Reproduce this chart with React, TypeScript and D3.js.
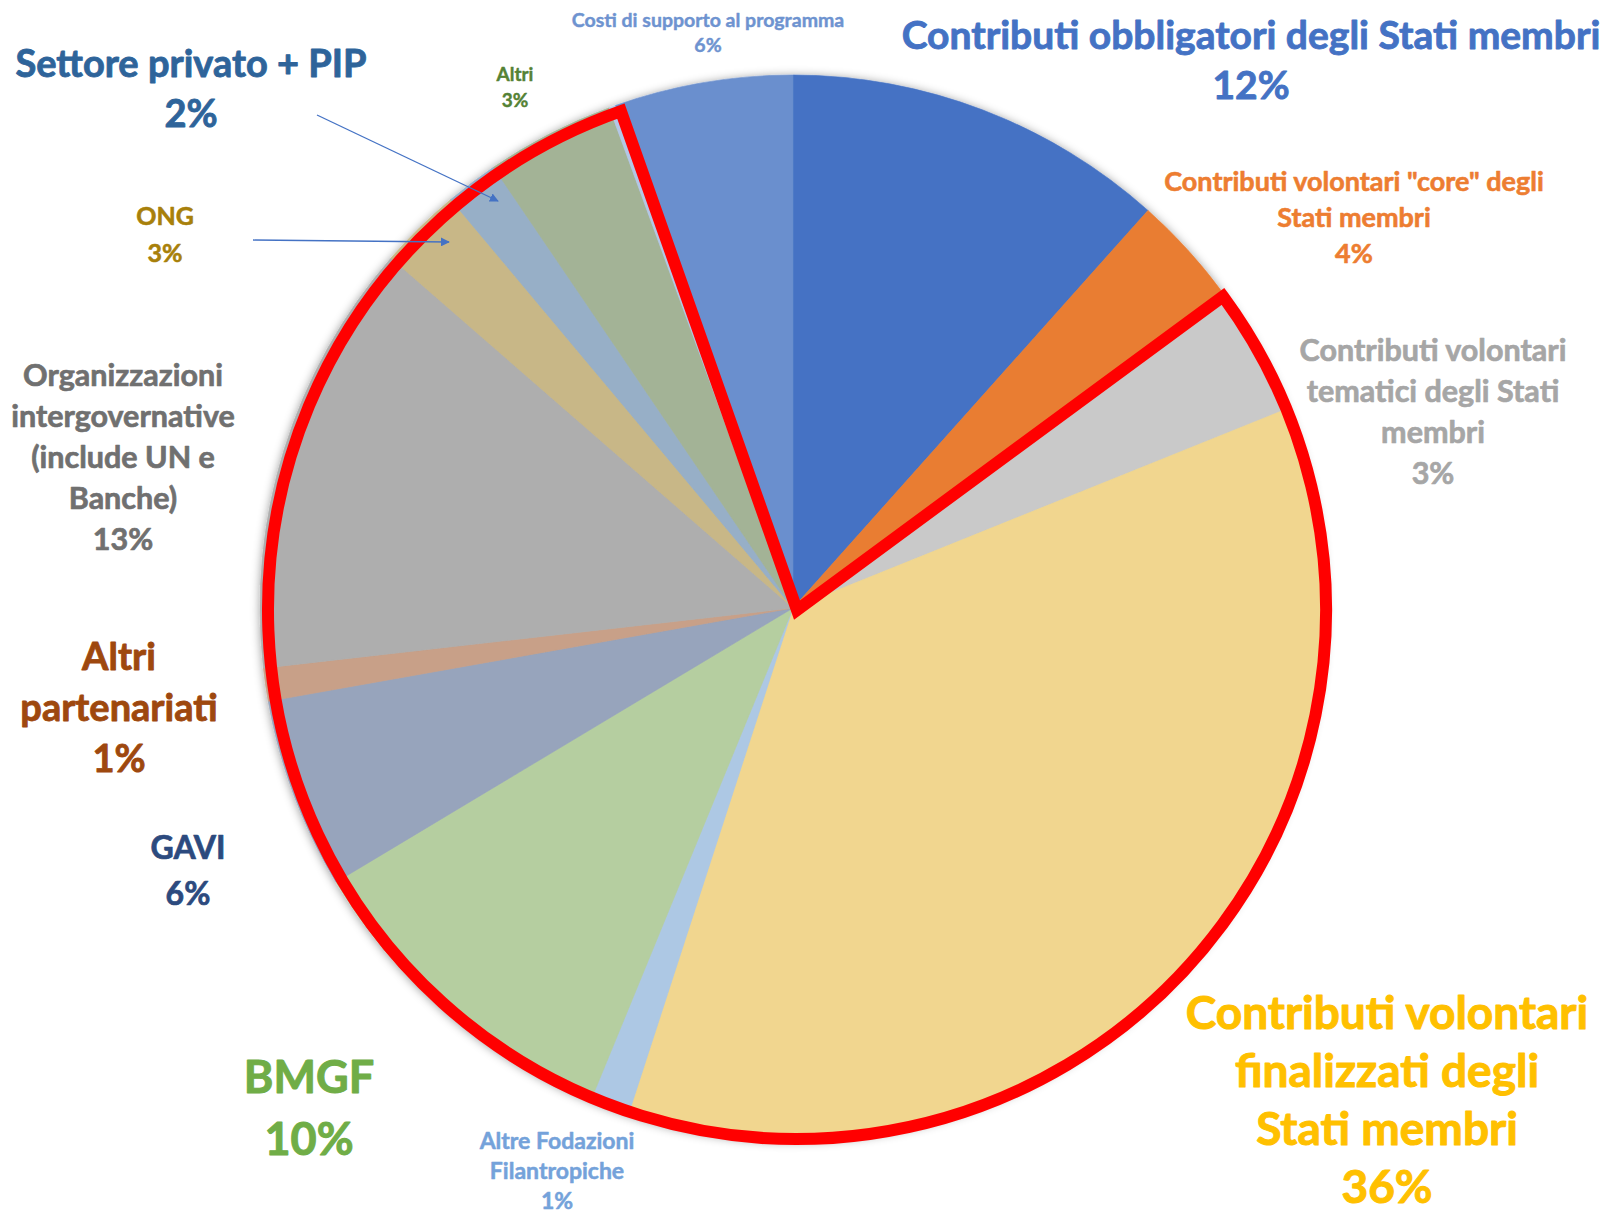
import * as d3 from 'd3';
import React from 'react';

// slices, clockwise from 12 o'clock
const categories = [
  'Contributi obbligatori degli Stati membri',
  'Contributi volontari "core" degli Stati membri',
  'n.d. (core)',
  'Contributi volontari tematici degli Stati membri',
  'Contributi volontari finalizzati degli Stati membri',
  'Altre Fodazioni Filantropiche',
  'BMGF',
  'GAVI',
  'Altri partenariati',
  'Organizzazioni intergovernative (include UN e Banche)',
  'ONG',
  'Settore privato + PIP',
  'Altri',
  'n.d. (altri)',
  'Costi di supporto al programma',
];
const values = [11.6, 3.3, 0.3, 3.7, 36.1, 1.2, 10.2, 5.8, 1.0, 13.2, 2.5, 1.6, 3.9, 0.2, 5.4];
const shownPct = ['12%', '4%', '', '3%', '36%', '1%', '10%', '6%', '1%', '13%', '3%', '2%', '3%', '', '6%'];
const labelLines = [
  ['Contributi obbligatori degli Stati membri'],
  ['Contributi volontari "core" degli', 'Stati membri'],
  [],
  ['Contributi volontari', 'tematici degli Stati', 'membri'],
  ['Contributi volontari', 'finalizzati degli', 'Stati membri'],
  ['Altre Fodazioni', 'Filantropiche'],
  ['BMGF'],
  ['GAVI'],
  ['Altri', 'partenariati'],
  ['Organizzazioni', 'intergovernative', '(include UN e', 'Banche)'],
  ['ONG'],
  ['Settore privato + PIP'],
  ['Altri'],
  [],
  ['Costi di supporto al programma'],
];
const sliceColors = [
  '#4472C4', '#E97D33', '#EDBB99', '#C9C9C9', '#F1D68F', '#ADC8E4', '#B5CEA0', '#97A4BC',
  '#C8A088', '#AEAEAE', '#C8B787', '#97AFC7', '#A3B396', '#B4C7E7', '#6A8FCE',
];
const textColors = [
  '#4472C4', '#ED7D31', '', '#A6A6A6', '#FFC000', '#74A2DA', '#70AD47', '#2C4A7E',
  '#9E480E', '#707070', '#A8800A', '#2E649A', '#548235', '', '#6E93D0',
];
// highlighted range (first and last slice index inside the red outline)
const highlight = [2, 13];

// label placement: centre x, first baseline, font size, line gap
const labelPos: ([number, number, number, number] | null)[] = [
  [1251, 49, 39, 50],
  [1354, 191, 27, 36],
  null,
  [1433, 361, 30.5, 41],
  [1387, 1029, 46, 58],
  [557, 1149, 23, 30],
  [309, 1093, 45, 62],
  [188, 859, 32, 46],
  [119, 670, 38, 51],
  [123, 386, 30.5, 41],
  [165, 225, 25, 37],
  [191, 77, 38, 50],
  [515, 81, 19, 26],
  null,
  [708, 27, 19.5, 25],
];
const arrows = [
  { from: [317, 115], to: [498, 201] },
  { from: [253, 240], to: [449, 242] },
];

const W = 1608;
const H = 1213;
const cx = 793;
const cy = 608;
const R = 533;

const App = () => {
  const pie = d3.pie<number>().sort(null).value(d => d);
  const arcs = pie(values);
  const arc = d3.arc<d3.PieArcDatum<number>>().innerRadius(0).outerRadius(R);
  // the red outline was placed by hand, a little off the pie centre
  const redArc = d3.arc()
    .innerRadius(0)
    .outerRadius(R - 4)
    .startAngle(arcs[highlight[0]].startAngle)
    .endAngle(arcs[highlight[1]].endAngle);

  return (
    <svg width={W} height={H} style={{ position: 'absolute', left: 0, top: 0, display: 'block' }}
      fontFamily="Lato, 'Open Sans', sans-serif" fontWeight={700}>
      <defs>
        <filter id="shadow" x="-10%" y="-10%" width="120%" height="120%">
          <feDropShadow dx="0" dy="1" stdDeviation="5" floodColor="#000" floodOpacity="0.4" />
        </filter>
        <marker id="arrowHead" viewBox="0 0 10 10" refX="9" refY="5" markerWidth="9" markerHeight="9"
          orient="auto" markerUnits="userSpaceOnUse">
          <path d="M0,0 L10,5 L0,10 Z" fill="#4472C4" />
        </marker>
      </defs>
      <rect width={W} height={H} fill="#fff" />
      <g transform={`translate(${cx},${cy})`}>
        <g filter="url(#shadow)">
          {arcs.map((a, i) => (
            <path key={i} d={arc(a) || ''} fill={sliceColors[i]} stroke={sliceColors[i]} strokeWidth={0.6} />
          ))}
        </g>
      </g>
      <g transform={`translate(${cx + 4},${cy + 2})`}>
        <path d={(redArc as any)() || ''} fill="none" stroke="#FF0000" strokeWidth={12}
          strokeLinejoin="miter" strokeMiterlimit={6} />
      </g>
      {arrows.map((a, i) => (
        <line key={i} x1={a.from[0]} y1={a.from[1]} x2={a.to[0]} y2={a.to[1]}
          stroke="#4472C4" strokeWidth={1.3} markerEnd="url(#arrowHead)" />
      ))}
      {labelPos.map((p, i) => {
        if (!p) return null;
        const [x, y, size, gap] = p;
        const lines = [...labelLines[i], shownPct[i]];
        return (
          <text key={i} x={x} y={y} textAnchor="middle" fontSize={size} fill={textColors[i]}
            stroke={textColors[i]} strokeWidth={size * 0.022} strokeLinejoin="round">
            {lines.map((l, j) => (
              <tspan key={j} x={x} y={y + j * gap}>{l}</tspan>
            ))}
          </text>
        );
      })}
    </svg>
  );
};

export default App;
